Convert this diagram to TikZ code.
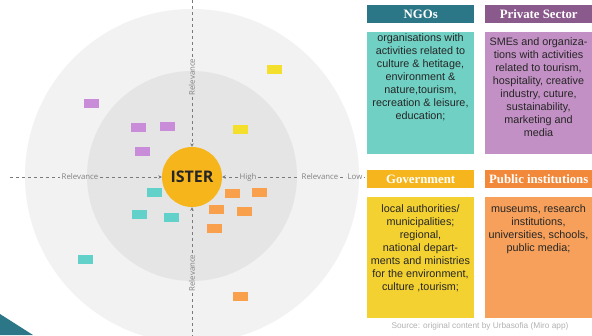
\documentclass[tikz,border=0pt]{standalone}
\usepackage{fontspec}
\setmainfont{Liberation Sans}
\newfontfamily\hdrfont{Liberation Serif}
\newfontfamily\osfont{Open Sans}
\usetikzlibrary{arrows.meta}
\definecolor{outerc}{HTML}{F2F2F2}
\definecolor{innerc}{HTML}{E5E5E5}
\definecolor{istc}{HTML}{F7B51C}
\definecolor{ngoh}{HTML}{2C7787}
\definecolor{ngob}{HTML}{70D0C4}
\definecolor{prih}{HTML}{8B5A8C}
\definecolor{prib}{HTML}{C290C4}
\definecolor{govh}{HTML}{F6B51D}
\definecolor{govb}{HTML}{F3D131}
\definecolor{pubh}{HTML}{F2883A}
\definecolor{pubb}{HTML}{F6A05B}
\definecolor{spur}{HTML}{C98CD8}
\definecolor{syel}{HTML}{F4DF2C}
\definecolor{stea}{HTML}{62D1CA}
\definecolor{sora}{HTML}{F8A04C}
\definecolor{lnc}{HTML}{7A7A7A}
\begin{document}
\begin{tikzpicture}[x=1pt,y=-1pt,
  sticky/.style={draw=none, minimum width=15pt, minimum height=9pt, inner sep=0pt},
  lbl/.style={font=\osfont\fontsize{7.8}{9}\selectfont, text=black!50, inner sep=1.5pt},
  dline/.style={draw=lnc, line width=0.9pt, dash pattern=on 3pt off 3pt},
  tip/.style={-{Stealth[length=3.5pt,width=3.5pt]}},
  hdrbox/.style={anchor=north west, minimum width=107pt, minimum height=18pt, inner sep=0pt,
     text=white, font=\hdrfont\bfseries\fontsize{12.8}{14}\selectfont},
  bodybox/.style={anchor=north west, minimum width=107pt, inner sep=0pt},
  bodytxt/.style={anchor=north, align=center, inner sep=0pt, text=black!85,
     font=\fontsize{10.8}{13}\selectfont}
]
\useasboundingbox (0,0) rectangle (592,335);
\fill[white] (0,0) rectangle (592,335);
\begin{scope}
\clip (0,0) rectangle (592,335);
\fill[outerc] (192,176) circle[radius=167pt];
\fill[innerc] (192,176) circle[radius=105pt];
\fill[ngoh] (0,314) -- (33,335) -- (0,335) -- cycle;
\end{scope}

% sticky notes
\node[sticky, fill=spur] (p1) at (91,103) {};
\node[sticky, fill=spur] (p2) at (138,127) {};
\node[sticky, fill=spur] (p3) at (167,126) {};
\node[sticky, fill=spur] (p4) at (142,151) {};
\node[sticky, fill=syel] (y1) at (274,69) {};
\node[sticky, fill=syel] (y2) at (240,129) {};
\node[sticky, fill=stea] (t1) at (154,192) {};
\node[sticky, fill=stea] (t2) at (139,214) {};
\node[sticky, fill=stea] (t3) at (171,217) {};
\node[sticky, fill=stea] (t4) at (85,259) {};
\node[sticky, fill=sora] (o1) at (232,193) {};
\node[sticky, fill=sora] (o2) at (259,192) {};
\node[sticky, fill=sora] (o3) at (216,209) {};
\node[sticky, fill=sora] (o4) at (244,211) {};
\node[sticky, fill=sora] (o5) at (214,228) {};
\node[sticky, fill=sora] (o6) at (240,296) {};

% centre
\node[circle, fill=istc, minimum size=60pt, inner sep=0pt,
      font=\osfont\bfseries\fontsize{16}{18}\selectfont, text=black!85] (ister) at (192,177) {ISTER};

% axes
\coordinate (hL) at (10,177);
\coordinate (hR) at (364,177);
\coordinate (vT) at (192,0);
\coordinate (vB) at (192,335);
\node[lbl] (relL) at (80,177) {Relevance};
\node[lbl] (high) at (248,177) {High};
\node[lbl] (relR) at (320,177) {Relevance};
\node[lbl] (low) at (355,177) {Low};
\node[lbl, rotate=90] (relT) at (192,77) {Relevance};
\node[lbl, rotate=90] (relB) at (192,273) {Relevance};
\draw[dline] (hL) -- (relL);
\draw[dline, tip] (relL) -- (ister);
\draw[dline, tip] (high) -- (ister);
\draw[dline] (high) -- (relR);
\draw[dline] (relR) -- (low);
\draw[dline] (low) -- (hR);
\draw[dline] (vT) -- (relT);
\draw[dline, tip] (relT) -- (ister);
\draw[dline, tip] (relB) -- (ister);
\draw[dline] (relB) -- (vB);

% right panels
\node[hdrbox, fill=ngoh] (ngohd) at (367,5) {NGOs};
\node[hdrbox, fill=prih] (prihd) at (485,5) {Private Sector};
\node[bodybox, fill=ngob, minimum height=122pt] (ngobd) at (367,32) {};
\node[bodybox, fill=prib, minimum height=122pt] (pribd) at (485,32) {};
\node[bodytxt] (ngotx) at (420.5,33.5) {organisations with\\activities related to\\culture \& hetitage,\\environment \&\\nature,tourism,\\recreation \& leisure,\\education;};
\node[bodytxt] (pritx) at (538.5,37.5) {SMEs and organiza-\\tions with activities\\related to tourism,\\hospitality, creative\\industry, cuture,\\sustainability,\\marketing and\\media};

\node[hdrbox, fill=govh] (govhd) at (367,170) {Government};
\node[hdrbox, fill=pubh] (pubhd) at (485,170) {Public institutions};
\node[bodybox, fill=govb, minimum height=121pt] (govbd) at (367,197) {};
\node[bodybox, fill=pubb, minimum height=121pt] (pubbd) at (485,197) {};
\node[bodytxt] (govtx) at (420.5,204.5) {local authorities/\\municipalities;\\regional,\\national depart-\\ments and ministries\\for the environment,\\culture ,tourism;};
\node[bodytxt] (pubtx) at (538.5,204.5) {museums, research\\institutions,\\universities, schools,\\public media;};

\node[font=\fontsize{8.3}{10}\selectfont, text=black!30, inner sep=0pt] (src) at (480,326) {Source: original content by Urbasofia (Miro app)};
\end{tikzpicture}
\end{document}
